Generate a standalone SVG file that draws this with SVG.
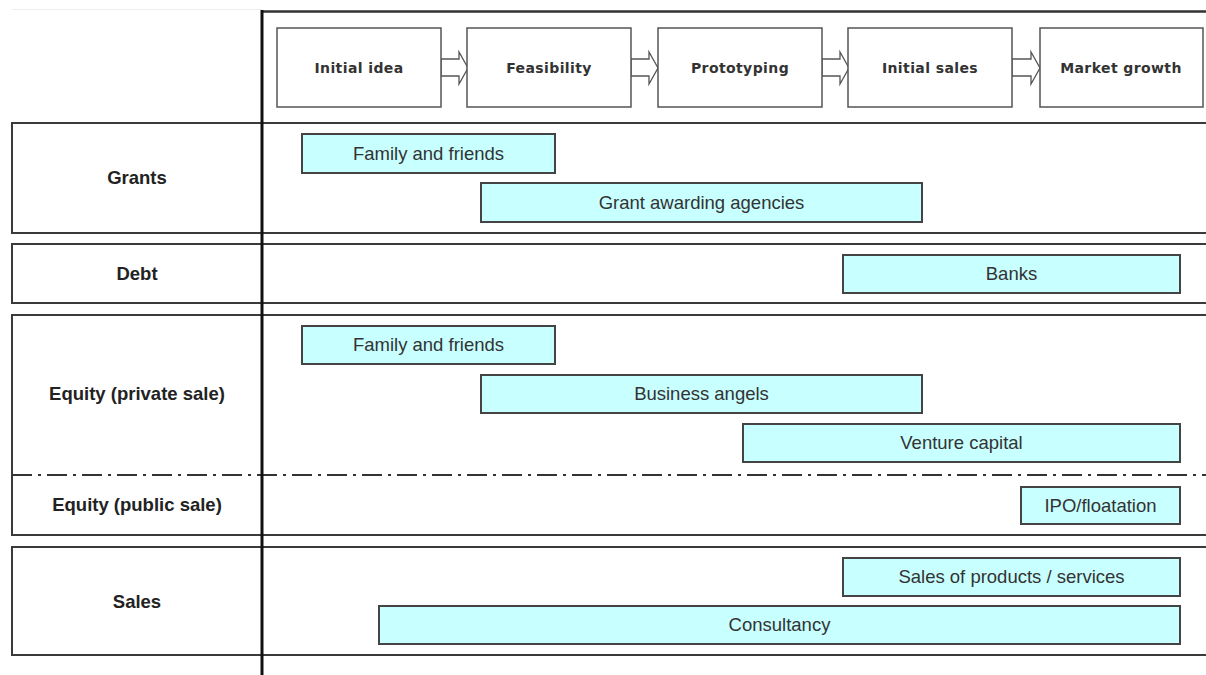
<svg xmlns="http://www.w3.org/2000/svg" width="1206" height="675" viewBox="0 0 1206 675">
<style>
.row{fill:#fff;stroke:#3a3a3a;stroke-width:2}
.rowlabel{font-family:"Liberation Sans",Arial,sans-serif;font-weight:bold;font-size:18.5px;fill:#222;text-anchor:middle}
.stage rect{fill:#fff;stroke:#555;stroke-width:1.5}
.stagetxt{font-family:"DejaVu Sans",Verdana,sans-serif;font-weight:bold;font-size:14px;letter-spacing:0.4px;fill:#333;text-anchor:middle}
.bar rect{fill:#c8ffff;stroke:#444;stroke-width:2}
.bartxt{font-family:"Liberation Sans",Arial,sans-serif;font-size:18.5px;fill:#333;text-anchor:middle}
.arrow{fill:#fff;stroke:#555;stroke-width:1.3}
</style>
<rect width="1206" height="675" fill="#fff"/>
<line x1="12" y1="9.5" x2="262" y2="9.5" stroke="#eee" stroke-width="1"/>
<!-- rows -->
<g id="row-grants"><rect class="row" x="12" y="123" width="1210" height="110"/><text class="rowlabel" x="137" y="184">Grants</text></g>
<g id="row-debt"><rect class="row" x="12" y="244" width="1210" height="59"/><text class="rowlabel" x="137" y="280">Debt</text></g>
<g id="row-equity"><rect class="row" x="12" y="315" width="1210" height="220"/>
<text class="rowlabel" x="137" y="400">Equity (private sale)</text>
<text class="rowlabel" x="137" y="511">Equity (public sale)</text>
<line x1="12" y1="475" x2="1206" y2="475" stroke="#333" stroke-width="2" stroke-dasharray="20 6 3 6"/></g>
<g id="row-sales"><rect class="row" x="12" y="547" width="1210" height="108"/><text class="rowlabel" x="137" y="608">Sales</text></g>
<!-- header -->
<line x1="262" y1="11.5" x2="1206" y2="11.5" stroke="#333" stroke-width="2.5"/>
<line x1="262" y1="10" x2="262" y2="675" stroke="#111" stroke-width="3"/>
<g id="connectors">
<polygon class="arrow" points="441,59 459,59 459,52 468,68 459,84 459,76 441,76"/>
<polygon class="arrow" points="631,59 649,59 649,52 658,68 649,84 649,76 631,76"/>
<polygon class="arrow" points="822,59 840,59 840,52 849,68 840,84 840,76 822,76"/>
<polygon class="arrow" points="1012,59 1031,59 1031,52 1040,68 1031,84 1031,76 1012,76"/>
</g>
<g id="stage-initial-idea" class="stage"><rect x="277" y="28" width="164" height="79"/><text class="stagetxt" x="359" y="73">Initial idea</text></g>
<g id="stage-feasibility" class="stage"><rect x="467" y="28" width="164" height="79"/><text class="stagetxt" x="549" y="73">Feasibility</text></g>
<g id="stage-prototyping" class="stage"><rect x="658" y="28" width="164" height="79"/><text class="stagetxt" x="740" y="73">Prototyping</text></g>
<g id="stage-initial-sales" class="stage"><rect x="848" y="28" width="164" height="79"/><text class="stagetxt" x="930" y="73">Initial sales</text></g>
<g id="stage-market-growth" class="stage"><rect x="1040" y="28" width="163" height="79"/><text class="stagetxt" x="1121" y="73">Market growth</text></g>
<!-- bars -->
<g id="bar-family-grants" class="bar"><rect x="302" y="134" width="253" height="39"/><text class="bartxt" x="428.5" y="160">Family and friends</text></g>
<g id="bar-grant-agencies" class="bar"><rect x="481" y="183" width="441" height="39"/><text class="bartxt" x="701.5" y="209">Grant awarding agencies</text></g>
<g id="bar-banks" class="bar"><rect x="843" y="255" width="337" height="38"/><text class="bartxt" x="1011.5" y="280">Banks</text></g>
<g id="bar-family-equity" class="bar"><rect x="302" y="326" width="253" height="38"/><text class="bartxt" x="428.5" y="351">Family and friends</text></g>
<g id="bar-business-angels" class="bar"><rect x="481" y="375" width="441" height="38"/><text class="bartxt" x="701.5" y="400">Business angels</text></g>
<g id="bar-venture-capital" class="bar"><rect x="743" y="424" width="437" height="38"/><text class="bartxt" x="961.5" y="449">Venture capital</text></g>
<g id="bar-ipo" class="bar"><rect x="1021" y="487" width="159" height="37"/><text class="bartxt" x="1100.5" y="512">IPO/floatation</text></g>
<g id="bar-sales-products" class="bar"><rect x="843" y="558" width="337" height="38"/><text class="bartxt" x="1011.5" y="583">Sales of products / services</text></g>
<g id="bar-consultancy" class="bar"><rect x="379" y="606" width="801" height="38"/><text class="bartxt" x="779.5" y="631">Consultancy</text></g>
</svg>
